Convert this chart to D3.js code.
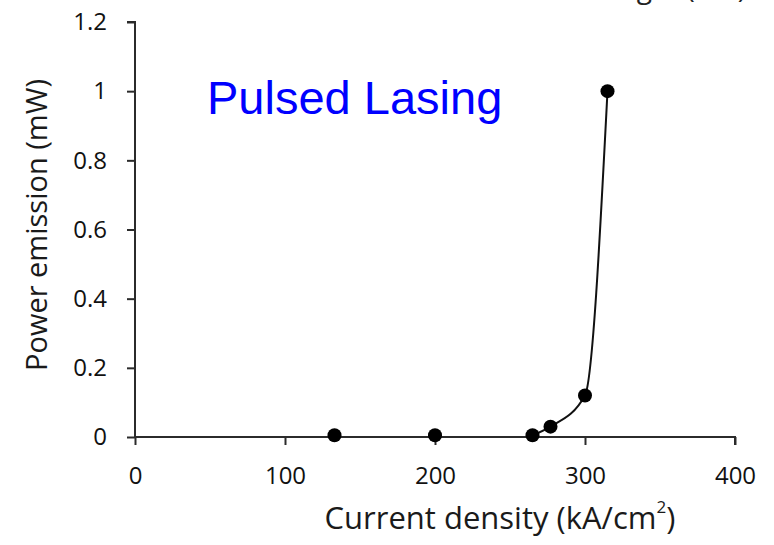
<!DOCTYPE html>
<html><head><meta charset="utf-8">
<script src="https://cdn.jsdelivr.net/npm/d3@7"></script>
<style>body{margin:0;background:#fff}svg{display:block}</style>
</head><body>
<script>
const currentDensity = [133, 200, 265, 277, 300, 315];
const powerEmission = [0.005, 0.005, 0.005, 0.03, 0.12, 1.0];
const xTicks = [0, 100, 200, 300, 400];
const yTicks = [0, 0.2, 0.4, 0.6, 0.8, 1, 1.2];
const fitStartIndex = 2;

const W = 774, H = 545;
const svg = d3.select("body").append("svg").attr("width", W).attr("height", H);
const x = d3.scaleLinear().domain([0, 400]).range([135, 735]);
const y = d3.scaleLinear().domain([0, 1.2]).range([437, 22]);
const font = "Open Sans, Liberation Sans, sans-serif";
const axisColor = "#2b2b2b";

// cut-off label at top
svg.append("text").attr("x", 746).attr("y", -2).attr("text-anchor", "end")
  .attr("font-family", font).attr("font-size", 28).attr("fill", "#222")
  .text("Wavelength (nm)");

// y axis
const yAxis = svg.append("g").attr("transform", `translate(${x(0)},0)`)
  .call(d3.axisLeft(y).tickValues(yTicks).tickSize(8).tickPadding(20)
    .tickFormat(d => d === 0 ? "0" : d3.format("")(+d.toFixed(1))));
// x axis
const xAxis = svg.append("g").attr("transform", `translate(0,${y(0)})`)
  .call(d3.axisBottom(x).tickValues(xTicks).tickSize(8).tickPadding(22).tickFormat(d3.format("d")));
[yAxis, xAxis].forEach(g => {
  g.select(".domain").attr("stroke", axisColor).attr("stroke-width", 2);
  g.selectAll(".tick line").attr("stroke", axisColor).attr("stroke-width", 2);
  g.selectAll(".tick text").attr("font-family", font).attr("font-size", 24)
    .attr("font-weight", 500).attr("fill", "#111");
});
yAxis.select(".domain").attr("d", `M-8,${y(1.2)}H0V${y(0)}`);
xAxis.select(".domain").attr("d", `M${x(0)},0H${x(400)}V8`);

// fitted curve
const fitPts = currentDensity.map((d, i) => [d, powerEmission[i]]).slice(fitStartIndex);
svg.append("path").datum(fitPts)
  .attr("d", d3.line().x(d => x(d[0])).y(d => y(d[1])).curve(d3.curveMonotoneX))
  .attr("fill", "none").attr("stroke", "#111").attr("stroke-width", 2);

// points
svg.selectAll("circle.pt").data(currentDensity).join("circle").attr("class", "pt")
  .attr("cx", d => x(d)).attr("cy", (d, i) => y(powerEmission[i])).attr("r", 7).attr("fill", "#000");

// annotation
svg.append("text").attr("x", 207).attr("y", 114)
  .attr("font-family", "Liberation Sans, Arial, sans-serif").attr("font-size", 47).attr("fill", "#0000ff")
  .text("Pulsed Lasing");

// axis titles
svg.append("text").attr("transform", "translate(47,225) rotate(-90)").attr("text-anchor", "middle")
  .attr("font-family", font).attr("font-size", 29).attr("fill", "#1a1a1a")
  .text("Power emission (mW)");
const xt = svg.append("text").attr("x", 500).attr("y", 529).attr("text-anchor", "middle")
  .attr("font-family", font).attr("font-size", 31).attr("fill", "#1a1a1a");
xt.append("tspan").text("Current density (kA/cm");
xt.append("tspan").attr("dy", -16).attr("font-size", 17).text("2");
xt.append("tspan").attr("dy", 16).text(")");
</script>
</body></html>
